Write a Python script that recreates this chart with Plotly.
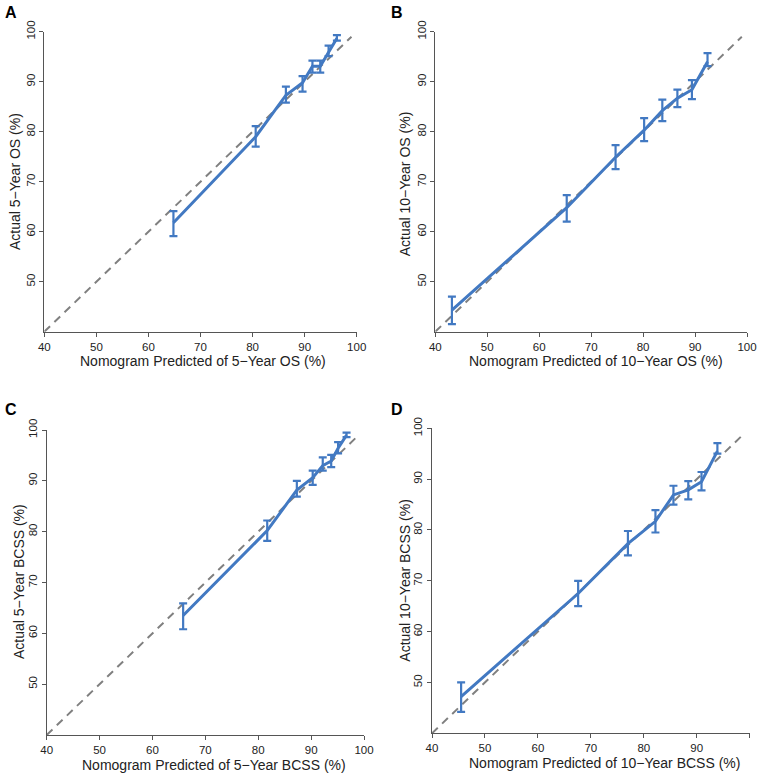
import plotly.graph_objects as go

# ---- data ----
a_pred = [64.8, 80.6, 86.4, 89.6, 91.5, 93.0, 94.6, 96.2]
a_obs = [61.8, 79.0, 87.3, 89.8, 93.1, 93.1, 95.9, 98.7]
a_hi = [64.1, 81.1, 89.0, 91.1, 94.2, 94.2, 97.2, 99.3]
a_lo = [59.1, 77.0, 85.8, 88.0, 91.8, 91.8, 95.1, 98.2]

b_pred = [43.2, 65.3, 74.7, 80.2, 83.7, 86.6, 89.4, 92.4]
b_obs = [44.3, 64.8, 74.9, 80.3, 84.2, 86.7, 88.4, 94.0]
b_hi = [47.0, 67.3, 77.3, 82.7, 86.4, 88.4, 90.3, 95.7]
b_lo = [41.5, 62.0, 72.5, 78.1, 82.1, 84.9, 86.5, 93.1]

c_pred = [65.8, 81.7, 87.3, 90.3, 92.2, 93.8, 95.1, 96.7]
c_obs = [63.5, 80.2, 88.2, 90.6, 93.0, 93.9, 96.4, 99.0]
c_hi = [65.9, 82.2, 90.0, 92.0, 94.6, 95.1, 97.6, 99.5]
c_lo = [60.8, 78.2, 86.9, 89.2, 92.0, 92.7, 95.4, 98.6]

d_pred = [45.5, 67.6, 77.0, 82.2, 85.6, 88.4, 90.9, 93.9]
d_obs = [47.2, 67.5, 77.3, 81.7, 86.9, 87.9, 89.5, 95.5]
d_hi = [50.0, 70.0, 79.8, 83.9, 88.7, 89.6, 91.4, 97.1]
d_lo = [44.2, 65.0, 75.0, 79.5, 85.0, 86.0, 87.8, 95.0]

ref_line = [40, 99]
x_ticks = [40, 50, 60, 70, 80, 90, 100]
y_ticks = [50, 60, 70, 80, 90, 100]

panels = [
    dict(letter="A", pred=a_pred, obs=a_obs, hi=a_hi, lo=a_lo,
         xt="Nomogram Predicted of 5\u2212Year OS (%)", yt="Actual 5\u2212Year OS (%)",
         xd=[44.3, 356.7], yd=[31.7, 331.7], lab=(3, 12), xtp=(202.5, 361), ytp=(15, 182)),
    dict(letter="B", pred=b_pred, obs=b_obs, hi=b_hi, lo=b_lo,
         xt="Nomogram Predicted of 10\u2212Year OS (%)", yt="Actual 10\u2212Year OS (%)",
         xd=[435.3, 747.0], yd=[31.7, 331.7], lab=(389, 12), xtp=(595.8, 361), ytp=(405.3, 184)),
    dict(letter="C", pred=c_pred, obs=c_obs, hi=c_hi, lo=c_lo,
         xt="Nomogram Predicted of 5\u2212Year BCSS (%)", yt="Actual 5\u2212Year BCSS (%)",
         xd=[46.7, 364.0], yd=[430.0, 735.0], lab=(3, 409), xtp=(213.8, 765), ytp=(18.3, 581.7)),
    dict(letter="D", pred=d_pred, obs=d_obs, hi=d_hi, lo=d_lo,
         xt="Nomogram Predicted of 10\u2212Year BCSS (%)", yt="Actual 10\u2212Year BCSS (%)",
         xd=[432.0, 749.7], yd=[428.3, 733.3], lab=(389, 409), xtp=(604, 763.3), ytp=(404.7, 580)),
]

W, H = 758, 774
BLUE = "#4279c2"
GRAY = "#808080"
AX = "#555555"
TXT = "#222222"
FONT = "Liberation Sans, Arial, sans-serif"


def px(x):
    return x / W


def py(y):
    return 1 - y / H


fig = go.Figure()
layout = dict(width=W, height=H, margin=dict(l=0, r=0, t=0, b=0, autoexpand=False),
              paper_bgcolor="white", plot_bgcolor="white", showlegend=False,
              font=dict(family=FONT, color=TXT))
annotations = []

for i, p in enumerate(panels):
    n = "" if i == 0 else str(i + 1)
    xa, ya = "x" + n, "y" + n
    # reference diagonal
    fig.add_trace(go.Scatter(x=ref_line, y=ref_line, mode="lines", xaxis=xa, yaxis=ya,
                             line=dict(color=GRAY, width=2, dash="8px,6px"),
                             hoverinfo="skip", cliponaxis=False))
    plus = [h - o for h, o in zip(p["hi"], p["obs"])]
    minus = [o - l for o, l in zip(p["obs"], p["lo"])]
    fig.add_trace(go.Scatter(x=p["pred"], y=p["obs"], mode="lines", xaxis=xa, yaxis=ya,
                             line=dict(color=BLUE, width=3), cliponaxis=False,
                             error_y=dict(type="data", symmetric=False, array=plus,
                                          arrayminus=minus, color=BLUE, thickness=2.2,
                                          width=4)))
    xdom = [px(p["xd"][0]), px(p["xd"][1])]
    ydom = [py(p["yd"][1]), py(p["yd"][0])]
    common = dict(showgrid=False, zeroline=False, showline=True, linecolor=AX, linewidth=1.3,
                  ticks="outside", ticklen=4, tickcolor=AX, tickwidth=1, automargin=False,
                  tickfont=dict(size=11.5, color=TXT, family=FONT))
    layout["xaxis" + n] = dict(domain=xdom, anchor=ya, range=[40, 100], tickvals=x_ticks, **common)
    layout["yaxis" + n] = dict(domain=ydom, anchor=xa, range=[40, 100], tickvals=y_ticks,
                               tickangle=-90, **common)
    annotations.append(dict(text="<b>%s</b>" % p["letter"], x=px(p["lab"][0]), y=py(p["lab"][1]),
                            xref="paper", yref="paper", xanchor="left", yanchor="middle",
                            showarrow=False, font=dict(size=16, family=FONT, color="#000000")))
    annotations.append(dict(text=p["xt"], x=px(p["xtp"][0]), y=py(p["xtp"][1]),
                            xref="paper", yref="paper", xanchor="center", yanchor="middle",
                            showarrow=False, font=dict(size=14, family=FONT, color=TXT)))
    annotations.append(dict(text=p["yt"], x=px(p["ytp"][0]), y=py(p["ytp"][1]),
                            xref="paper", yref="paper", xanchor="center", yanchor="middle",
                            textangle=-90, showarrow=False,
                            font=dict(size=14, family=FONT, color=TXT)))

layout["annotations"] = annotations
fig.update_layout(**layout)
# remove the browser's default 8px body margin so the 758x774 figure fills the window
fig.write_html("out.html", config={"displayModeBar": False},
               post_script="document.body.style.margin='0px';document.body.style.overflow='hidden';")
